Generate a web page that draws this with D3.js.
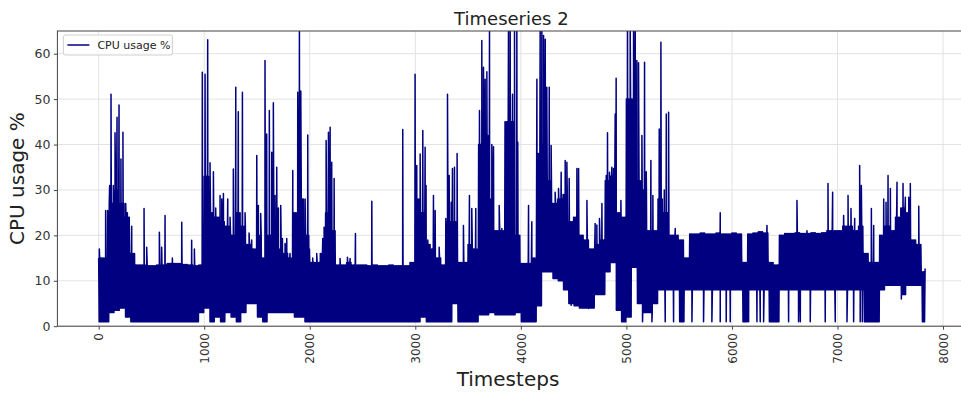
<!DOCTYPE html>
<html>
<head>
<meta charset="utf-8">
<script src="https://cdn.jsdelivr.net/npm/d3@7/dist/d3.min.js"></script>
<style>
  body { margin: 0; background: #fff; }
  svg { display: block; }
  text { font-family: "DejaVu Sans", sans-serif; }
</style>
</head>
<body>
<div id="chart"></div>
<script>
// values, in windows of 50 timesteps
const windowSize = 50;
const sampleEvery = 5;
const lastStep = 7830;

// upper edge of the dense band, one value per window
const bodyTop = [
  15, 15, 27, 30, 27, 24, 16, 13.5, 13.5, 13.3,
  13.3, 13.5, 13.5, 13.8, 13.8, 13.8, 13.6, 13.5, 13.3, 13.5,
  33, 25, 24, 23, 22, 20, 25, 22, 18, 17,
  20, 15, 20, 20, 17, 16, 15, 25, 28, 20,
  14, 14, 16, 25, 21, 13.5, 13.5, 14, 13.5, 13.5,
  13.5, 13.3, 13.5, 13.3, 13.3, 13.5, 13.3, 13.3, 13.3, 14,
  28, 25, 18, 17, 15, 13.5, 23, 23, 14, 14,
  18, 17, 40, 42, 28, 21, 21, 45, 45, 20,
  13.8, 13.8, 15, 38, 40, 32, 27, 28, 29, 23,
  24, 20, 19, 17, 18, 19, 32, 33, 25, 24,
  50, 50, 32, 30, 21, 21, 28, 25, 20, 20,
  19, 15, 20.3, 20.3, 20.5, 20.3, 20.3, 20.5, 20.3, 20.3,
  20.5, 20.3, 14, 20.3, 20.5, 20.8, 20.5, 14, 13.5, 20,
  20.4, 20.4, 20.6, 20.4, 20.4, 20.6, 20.4, 20.6, 21, 21,
  21, 22, 22, 21, 22, 16, 14, 14, 20, 22,
  21, 24, 26, 25, 19, 18, 12
];

// lower edge of the dense band, one value per window
const floorLevel = [
  1, 1, 3, 3.5, 4, 2, 1, 1, 1, 1,
  1, 1, 1, 1, 1, 1, 1, 1, 1, 3,
  4, 1, 2, 1, 3, 2, 1, 3, 5, 5,
  2, 1, 3, 3, 3, 3, 3, 2, 2, 1,
  1, 1, 1, 1, 1, 1, 1, 1, 1, 1,
  1, 1, 1, 1, 1, 1, 1, 1, 1, 1,
  1, 2, 1, 1, 1, 1, 1, 5, 1, 1,
  1, 1, 2.5, 2.5, 3, 2.5, 2.5, 2.5, 2.5, 3,
  1, 1, 1, 4.5, 12, 12, 10.5, 10, 8, 5,
  4.5, 4, 4, 4, 7, 7, 12, 14, 3.5, 1,
  2, 13, 5, 3, 3, 5, 8, 8, 8, 8,
  1, 8, 8, 8, 8, 8, 8, 8, 8, 8,
  8, 8, 1, 8, 8, 8, 8, 1, 1, 8,
  8, 8, 8, 8, 8, 8, 8, 8, 8, 8,
  8, 8, 8, 8, 8, 1, 1, 1, 8, 9,
  9, 9, 7, 9, 9, 9, 1
];

// single readings that stand above the band: [timestep, value]
const spikes = [
  [6, 17], [66, 25.5], [85, 25.5], [104, 31], [117, 51.1], [139, 31], [155, 42.6],
  [174, 46], [193, 48.7], [211, 36.8], [230, 42.7], [256, 27], [272, 25], [313, 22],
  [338, 15], [430, 25.9], [455, 17.4], [575, 20.7], [597, 17.4], [629, 24.4],
  [698, 15], [787, 22.9], [881, 18.9], [907, 17], [982, 55.9], [1008, 55.5],
  [1033, 63.1], [1055, 36], [1087, 34], [1109, 26], [1150, 28.8], [1166, 28],
  [1182, 29.2], [1223, 28], [1245, 24], [1276, 34.6], [1299, 52.6], [1323, 47.2],
  [1362, 51.5], [1387, 25], [1425, 20.5], [1450, 19], [1498, 37.6], [1513, 26.6],
  [1545, 15], [1535, 24.8], [1576, 58.5], [1592, 42.3], [1617, 47.5], [1640, 38.3],
  [1655, 49.2], [1671, 28.8], [1687, 35], [1703, 26], [1725, 26.6], [1741, 19.3],
  [1766, 18.2], [1782, 19.3], [1813, 16], [1839, 34.3], [1855, 24], [1886, 51.5],
  [1902, 66], [1915, 51.8], [1940, 28], [1956, 28], [1981, 42.1], [1997, 17],
  [2028, 15], [2066, 16], [2123, 19.3], [2136, 21.8], [2155, 40.9], [2177, 42.7],
  [2193, 43.8], [2208, 36.1], [2231, 32.5], [2287, 14.9], [2357, 15.2], [2382, 14.9],
  [2433, 20.4], [2588, 27.5], [2881, 43.3], [2998, 55.5], [3014, 35.4], [3046, 37.9],
  [3071, 43.1], [3093, 39.4], [3102, 31], [3118, 19], [3172, 28.8], [3188, 25.5],
  [3226, 17.4], [3289, 23.7], [3305, 51.1], [3321, 33.2], [3340, 27.3], [3352, 34.7],
  [3371, 35], [3396, 38], [3456, 22.2], [3513, 28.8], [3535, 25.9], [3573, 25.9],
  [3608, 47.5], [3630, 62.9], [3646, 57], [3662, 54.4], [3678, 56], [3703, 66],
  [3725, 40], [3741, 39.5], [3795, 26.6], [3820, 21.5], [3851, 27.3], [3883, 66],
  [3899, 66], [3921, 51.1], [3940, 66], [3962, 66], [3971, 40.5], [4073, 26.6],
  [4104, 23], [4152, 54.4], [4183, 66], [4199, 66], [4215, 64], [4231, 63.2],
  [4246, 52.6], [4269, 52.6], [4287, 39.8], [4325, 29.5], [4357, 30.3], [4382, 33.9],
  [4420, 36.5], [4436, 36.1], [4458, 32.5], [4499, 22.9], [4531, 34.7], [4547, 34.7],
  [4626, 27.7], [4704, 22.6], [4720, 22.3], [4745, 23.7], [4768, 27], [4809, 33.2],
  [4821, 42.6], [4840, 33.9], [4862, 35], [4878, 34.7], [4894, 46.7], [4903, 54.6],
  [4926, 22], [4948, 27.7], [5011, 66], [5036, 66], [5068, 66], [5084, 66],
  [5099, 58.5], [5115, 58], [5147, 42], [5172, 58.1], [5188, 34], [5232, 36.5],
  [5251, 28.8], [5311, 43.4], [5327, 62.5], [5359, 30], [5378, 46.7], [5400, 47.1],
  [5463, 21.5], [5889, 25], [6332, 22.2], [6616, 27.7], [6711, 21], [6910, 31.4],
  [6954, 29.5], [7058, 24.4], [7100, 28.8], [7128, 25.9], [7163, 23.7], [7210, 35.4],
  [7226, 31], [7321, 25.9], [7343, 22.2], [7438, 28], [7460, 27.3], [7479, 33.2],
  [7501, 30.3], [7564, 31.7], [7621, 31.4], [7643, 28.4], [7675, 28.4], [7690, 31.4],
  [7770, 26.4], [7830, 12.7]
];

// single readings that drop below the band: [timestep, value]
const dips = [
  [4477, 4.6], [4641, 3.9], [4967, 1], [5153, 1], [5242, 1], [5368, 1], [5447, 1],
  [5621, 1], [5731, 1], [5810, 1], [5889, 1], [5946, 1], [5984, 1], [6158, 1],
  [6237, 1], [6268, 1], [6300, 1], [6537, 1], [6631, 1], [6648, 1], [6742, 1],
  [6884, 1], [6979, 1], [7090, 1], [7153, 1], [7215, 1], [7235, 1], [7605, 6]
];

const xTicks = [0, 1000, 2000, 3000, 4000, 5000, 6000, 7000, 8000];
const yTicks = [0, 10, 20, 30, 40, 50, 60];

const width = 961;
const height = 396;
const plot = { left: 57.4, right: 965.3, top: 31, bottom: 326.2 };

// band: step through every window, switching between its upper and lower edge
const points = [];
bodyTop.forEach((b, i) => {
  for (let k = 0; k < windowSize; k += sampleEvery) {
    const t = i * windowSize + k;
    if (t > lastStep) break;
    points.push([t, (t / sampleEvery) % 2 === 0 ? b : floorLevel[i]]);
  }
});
spikes.forEach(d => points.push(d));
dips.forEach(d => points.push(d));
points.sort((a, b) => a[0] - b[0]);

const x = d3.scaleLinear().domain([-391, 8211]).range([plot.left, plot.right]);
const y = d3.scaleLinear().domain([0, 65]).range([plot.bottom, plot.top]);

const svg = d3.select('#chart').append('svg')
    .attr('width', width)
    .attr('height', height);

svg.append('defs').append('clipPath')
    .attr('id', 'clip')
  .append('rect')
    .attr('x', plot.left)
    .attr('y', plot.top)
    .attr('width', plot.right - plot.left)
    .attr('height', plot.bottom - plot.top);

// grid
svg.append('g')
  .selectAll('line')
  .data(xTicks)
  .join('line')
    .attr('x1', d => x(d)).attr('x2', d => x(d))
    .attr('y1', plot.top).attr('y2', plot.bottom)
    .attr('stroke', '#e3e3e3')
    .attr('stroke-width', 1);

svg.append('g')
  .selectAll('line')
  .data(yTicks)
  .join('line')
    .attr('x1', plot.left).attr('x2', plot.right)
    .attr('y1', d => y(d)).attr('y2', d => y(d))
    .attr('stroke', '#e3e3e3')
    .attr('stroke-width', 1);

// series
const line = d3.line()
    .x(d => x(d[0]))
    .y(d => y(d[1]));

svg.append('path')
    .datum(points)
    .attr('clip-path', 'url(#clip)')
    .attr('fill', 'none')
    .attr('stroke', '#000080')
    .attr('stroke-width', 1.5)
    .attr('stroke-linejoin', 'round')
    .attr('d', line);

// frame
svg.append('rect')
    .attr('x', plot.left)
    .attr('y', plot.top)
    .attr('width', plot.right - plot.left)
    .attr('height', plot.bottom - plot.top)
    .attr('fill', 'none')
    .attr('stroke', '#444')
    .attr('stroke-width', 1);

// axes
const xAxis = svg.append('g')
    .attr('transform', `translate(0,${plot.bottom})`)
    .call(d3.axisBottom(x).tickValues(xTicks).tickSize(3.5).tickPadding(3.5).tickFormat(d3.format('d')));
xAxis.select('.domain').remove();
xAxis.selectAll('.tick line').attr('stroke', '#444');
xAxis.selectAll('.tick text')
    .attr('font-size', 12)
    .attr('fill', '#333')
    .attr('text-anchor', 'end')
    .attr('dy', '0.35em')
    .attr('transform', 'translate(0,7) rotate(-90)')
    .attr('x', 0)
    .attr('y', 0);

const yAxis = svg.append('g')
    .attr('transform', `translate(${plot.left},0)`)
    .call(d3.axisLeft(y).tickValues(yTicks).tickSize(3.5).tickPadding(3.5));
yAxis.select('.domain').remove();
yAxis.selectAll('.tick line').attr('stroke', '#444');
yAxis.selectAll('.tick text')
    .attr('font-size', 12.5)
    .attr('fill', '#333');

// labels
svg.append('text')
    .attr('x', (plot.left + plot.right) / 2)
    .attr('y', 24.5)
    .attr('text-anchor', 'middle')
    .attr('font-size', 18)
    .attr('fill', '#222')
    .text('Timeseries 2');

svg.append('text')
    .attr('x', 508)
    .attr('y', 386)
    .attr('text-anchor', 'middle')
    .attr('font-size', 20)
    .attr('fill', '#222')
    .text('Timesteps');

svg.append('text')
    .attr('transform', `translate(24,${(plot.top + plot.bottom) / 2}) rotate(-90)`)
    .attr('text-anchor', 'middle')
    .attr('font-size', 20)
    .attr('fill', '#222')
    .text('CPU usage %');

// legend
const legend = svg.append('g').attr('transform', `translate(${plot.left + 6},${plot.top + 4})`);
legend.append('rect')
    .attr('width', 109)
    .attr('height', 20)
    .attr('rx', 2)
    .attr('fill', '#fff')
    .attr('fill-opacity', 0.8)
    .attr('stroke', '#d0d0d0');
legend.append('line')
    .attr('x1', 4).attr('x2', 26)
    .attr('y1', 10).attr('y2', 10)
    .attr('stroke', '#000080')
    .attr('stroke-width', 1.5);
legend.append('text')
    .attr('x', 34)
    .attr('y', 14)
    .attr('font-size', 11)
    .attr('fill', '#222')
    .text('CPU usage %');
</script>
</body>
</html>
